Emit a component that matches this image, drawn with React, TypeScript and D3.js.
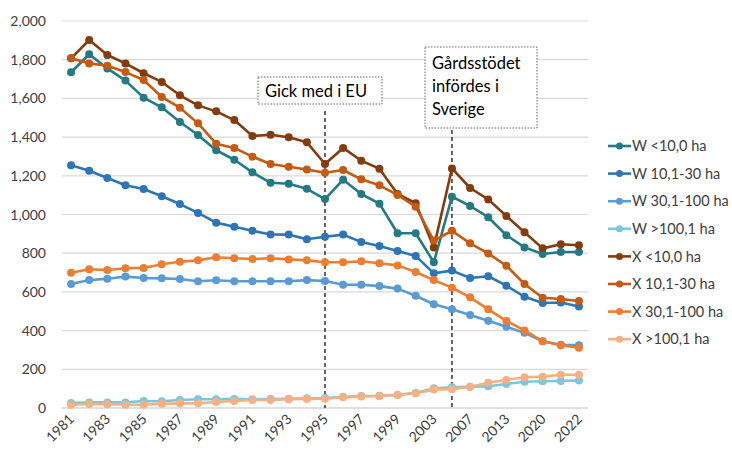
import React from 'react';
import * as d3 from 'd3';

// categories (uneven years after 1999)
const years = [
  '1981', '1982', '1983', '1984', '1985', '1986', '1987', '1988', '1989', '1990',
  '1991', '1992', '1993', '1994', '1995', '1996', '1997', '1998', '1999', '2001',
  '2003', '2005', '2007', '2010', '2013', '2016', '2020', '2021', '2022',
];

const wUnder10 = [1735, 1828, 1755, 1692, 1604, 1554, 1478, 1411, 1332, 1283, 1218, 1164, 1159, 1133, 1080, 1180, 1106, 1056, 903, 903, 753, 1092, 1044, 986, 893, 830, 796, 806, 806];
const w10to30 = [1254, 1226, 1189, 1151, 1132, 1094, 1054, 1008, 958, 937, 916, 897, 896, 872, 885, 896, 858, 837, 811, 786, 696, 710, 672, 681, 632, 575, 543, 545, 524];
const w30to100 = [641, 661, 668, 679, 672, 670, 667, 655, 660, 655, 655, 655, 655, 661, 656, 637, 637, 630, 617, 580, 536, 510, 481, 451, 420, 389, 345, 327, 324];
const wOver100 = [26, 29, 29, 29, 36, 35, 41, 45, 45, 47, 45, 46, 48, 50, 52, 58, 62, 63, 68, 78, 102, 107, 110, 112, 124, 136, 138, 140, 142];
const xUnder10 = [1807, 1902, 1824, 1781, 1730, 1685, 1616, 1564, 1533, 1488, 1406, 1412, 1399, 1373, 1261, 1344, 1278, 1237, 1106, 1058, 830, 1238, 1137, 1078, 992, 908, 825, 846, 841];
const x10to30 = [1807, 1781, 1769, 1736, 1695, 1607, 1552, 1471, 1366, 1344, 1299, 1261, 1247, 1233, 1216, 1230, 1182, 1151, 1101, 1040, 865, 916, 851, 799, 735, 641, 570, 563, 553];
const x30to100 = [699, 717, 713, 722, 724, 743, 756, 763, 779, 774, 770, 774, 768, 763, 753, 753, 758, 748, 737, 703, 661, 622, 572, 510, 450, 401, 345, 324, 312];
const xOver100 = [17, 21, 20, 17, 17, 22, 24, 24, 31, 36, 41, 41, 45, 47, 48, 55, 60, 62, 67, 76, 95, 97, 110, 131, 145, 159, 162, 172, 172];

const seriesNames = [
  'W <10,0 ha', 'W 10,1-30 ha', 'W 30,1-100 ha', 'W >100,1 ha',
  'X <10,0 ha', 'X 10,1-30 ha', 'X 30,1-100 ha', 'X >100,1 ha',
];
const seriesValues = [wUnder10, w10to30, w30to100, wOver100, xUnder10, x10to30, x30to100, xOver100];
const colors = ['#247A84', '#2E75B6', '#5B9BD5', '#7CC6DE', '#843C0C', '#C55A11', '#ED7D31', '#F4B183'];

const yTicks = [0, 200, 400, 600, 800, 1000, 1200, 1400, 1600, 1800, 2000];
const events = [
  { year: '1995', lines: ['Gick med i EU'] },
  { year: '2005', lines: ['Gårdsstödet', 'infördes i', 'Sverige'] },
];

const W = 732;
const H = 453;
const font = 'Lato, Carlito, Calibri, sans-serif';

export default function App() {
  const margin = { left: 62, right: 144, top: 21, bottom: 45 };
  const x = d3.scalePoint<string>()
    .domain(years)
    .range([margin.left, W - margin.right])
    .padding(0.5);
  const y = d3.scaleLinear().domain([0, 2000]).range([H - margin.bottom, margin.top]);
  const line = d3.line<number>()
    .x((_, i) => x(years[i]) as number)
    .y(d => y(d));

  const ex0 = x(events[0].year) as number;
  const ex1 = x(events[1].year) as number;

  return (
    <svg width={W} height={H} style={{ position: 'absolute', left: 0, top: 0, background: '#fff' }} fontFamily={font}>
      {/* grid */}
      {yTicks.map(t => (
        <line key={t} x1={margin.left} x2={W - margin.right} y1={y(t)} y2={y(t)}
          stroke={t === 0 ? '#BFBFBF' : '#D9D9D9'} strokeWidth={1.2} />
      ))}
      {yTicks.map(t => (
        <text key={'l' + t} x={46} y={y(t)} dy="0.36em" textAnchor="end" fontSize={14} fill="#404040">
          {d3.format(',')(t)}
        </text>
      ))}
      {years.filter((_, i) => i % 2 === 0).map(yr => (
        <text key={yr} transform={`translate(${(x(yr) as number) + 4},${H - margin.bottom + 12}) rotate(-45)`}
          textAnchor="end" fontSize={14} fill="#404040">
          {yr}
        </text>
      ))}

      {/* event lines */}
      <line x1={ex0} x2={ex0} y1={111} y2={y(0)} stroke="#000" strokeWidth={1.2} strokeDasharray="4,3" />
      <line x1={ex1} x2={ex1} y1={130} y2={y(0)} stroke="#000" strokeWidth={1.2} strokeDasharray="4,3" />

      {/* series */}
      {seriesValues.map((vals, s) => (
        <g key={seriesNames[s]}>
          <path d={line(vals) as string} fill="none" stroke={colors[s]} strokeWidth={2.6} strokeLinejoin="round" />
          {vals.map((v, i) => (
            <circle key={i} cx={x(years[i]) as number} cy={y(v)} r={4} fill={colors[s]} />
          ))}
        </g>
      ))}

      {/* annotation boxes */}
      <rect x={258} y={77} width={124} height={27} fill="#fff" stroke="#404040" strokeWidth={0.8} strokeDasharray="1.5,1.5" />
      <text x={265} y={97} fontSize={16.5} fill="#000">{events[0].lines[0]}</text>
      <rect x={425} y={47} width={112} height={81} fill="#fff" stroke="#404040" strokeWidth={0.8} strokeDasharray="1.5,1.5" />
      {events[1].lines.map((l, i) => (
        <text key={l} x={432} y={69 + i * 23} fontSize={16.5} fill="#000">{l}</text>
      ))}

      {/* legend */}
      {seriesNames.map((n, i) => {
        const ly = 146 + i * 27.6;
        return (
          <g key={n}>
            <line x1={608} x2={631} y1={ly} y2={ly} stroke={colors[i]} strokeWidth={2.6} />
            <circle cx={619.5} cy={ly} r={3.5} fill={colors[i]} />
            <text x={632} y={ly} dy="0.36em" fontSize={14.5} fill="#404040">{n}</text>
          </g>
        );
      })}
    </svg>
  );
}
